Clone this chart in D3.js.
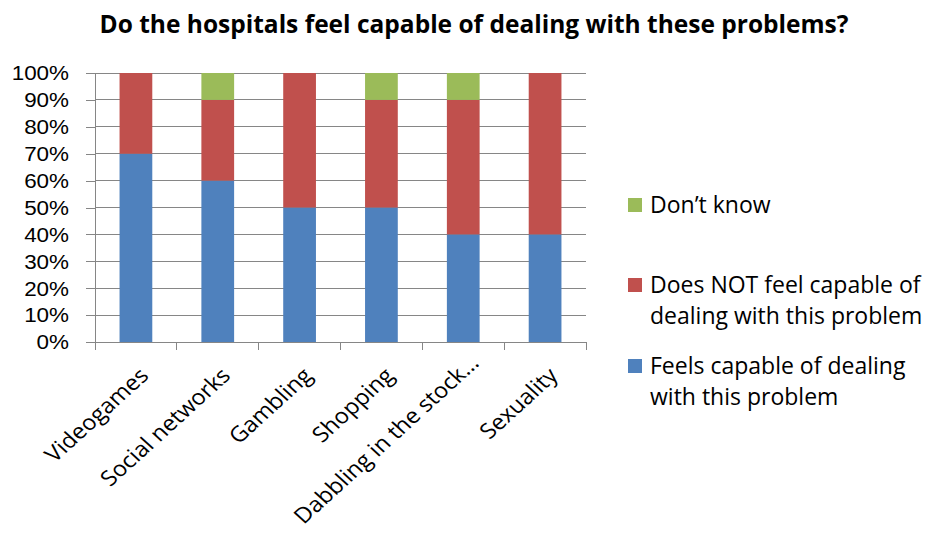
<!DOCTYPE html>
<html>
<head>
<meta charset="utf-8">
<script src="https://cdn.jsdelivr.net/npm/d3@7"></script>
<style>
  html, body { margin: 0; padding: 0; background: #fff; }
  svg { display: block; font-family: "Open Sans", "Noto Sans", sans-serif; }
</style>
</head>
<body>
<svg id="chart" width="927" height="535"></svg>
<script>
// Survey answers per problem area, in percent of hospitals
const categories = ["Videogames", "Social networks", "Gambling", "Shopping", "Dabbling in the stock\u2026", "Sexuality"];
const feelsCapable = [70, 60, 50, 50, 40, 40];
const notCapable = [30, 30, 50, 40, 50, 60];
const dontKnow = [0, 10, 0, 10, 10, 0];
const seriesNames = ["Feels capable of dealing with this problem", "Does NOT feel capable of dealing with this problem", "Don\u2019t know"];
const seriesColors = ["#4F81BD", "#C0504D", "#9BBB59"];
const yTicks = [0, 10, 20, 30, 40, 50, 60, 70, 80, 90, 100];
const titleText = "Do the hospitals feel capable of dealing with these problems?";

const W = 927, H = 535;
const svg = d3.select("#chart");
const plot = { left: 95, right: 586, top: 73, bottom: 342 };
const gridColor = "#868686";
const stretch = 1.1; // labels are set slightly wide

const x = d3.scaleBand().domain(categories).range([plot.left, plot.right]).paddingInner(0.6).paddingOuter(0.3);
const xEdges = d3.scaleBand().domain(categories).range([plot.left, plot.right]).padding(0);
const y = d3.scaleLinear().domain([0, 100]).range([plot.bottom, plot.top]);

// title
svg.append("text")
  .attr("x", 474).attr("y", 33)
  .attr("text-anchor", "middle")
  .attr("font-weight", "bold")
  .attr("font-size", 24.5)
  .text(titleText);

// horizontal gridlines
svg.append("g").selectAll("line").data(yTicks.filter(d => d > 0)).join("line")
  .attr("x1", plot.left).attr("x2", plot.right)
  .attr("y1", d => y(d)).attr("y2", d => y(d))
  .attr("stroke", gridColor).attr("stroke-width", 1).attr("shape-rendering", "crispEdges");

// y axis: line and ticks from d3, labels set wide next to each tick
const yAxis = d3.axisLeft(y).tickValues(yTicks).tickFormat("").tickSize(9);
const gy = svg.append("g").attr("transform", `translate(${plot.left},0)`).call(yAxis);
gy.select(".domain").attr("stroke", gridColor).attr("shape-rendering", "crispEdges");
gy.selectAll(".tick line").attr("stroke", gridColor).attr("shape-rendering", "crispEdges");
gy.selectAll(".tick").append("text")
  .attr("transform", `translate(-26,0) scale(1.15,1)`)
  .attr("text-anchor", "end")
  .attr("dy", "0.35em")
  .attr("font-size", 19.5)
  .attr("fill", "#000")
  .text(d => d + "%");

// stacked bars
const rows = categories.map((c, i) => ({ cat: c, s0: feelsCapable[i], s1: notCapable[i], s2: dontKnow[i] }));
const stacked = d3.stack().keys(["s0", "s1", "s2"])(rows);
svg.append("g").selectAll("g").data(stacked).join("g")
  .attr("fill", (d, i) => seriesColors[i])
  .selectAll("rect").data(d => d).join("rect")
  .attr("x", d => x(d.data.cat))
  .attr("width", x.bandwidth())
  .attr("y", d => y(d[1]))
  .attr("height", d => y(d[0]) - y(d[1]));

// x axis with ticks at category boundaries
const gx = svg.append("g").attr("transform", `translate(0,${plot.bottom})`);
gx.append("line").attr("x1", plot.left).attr("x2", plot.right).attr("stroke", gridColor).attr("shape-rendering", "crispEdges");
const edges = categories.map(c => xEdges(c)).concat([plot.right]);
gx.selectAll("line.edge").data(edges).join("line").attr("class", "edge")
  .attr("x1", d => d).attr("x2", d => d).attr("y1", 0).attr("y2", 8)
  .attr("stroke", gridColor).attr("shape-rendering", "crispEdges");

// rotated category labels; long ones are lifted so they stay inside the chart area
const labels = gx.selectAll("text").data(categories).join("text")
  .attr("text-anchor", "end")
  .attr("font-size", 21.5)
  .text(d => d);
labels.each(function (d) {
  const len = this.getComputedTextLength();
  let ax = x(d) + x.bandwidth() / 2 + 14;
  let ay = 35;
  const startY = plot.bottom + ay + len * Math.SQRT1_2 + 6;
  const over = startY - (H - 4);
  if (over > 0) { ay -= over; ax += over / 4; }
  d3.select(this).attr("transform", `translate(${ax},${ay}) scale(${stretch},1) rotate(-45)`);
});

// legend
const legendItems = [
  { name: ["Don\u2019t know"], color: seriesColors[2], y: 205 },
  { name: ["Does NOT feel capable of", "dealing with this problem"], color: seriesColors[1], y: 285 },
  { name: ["Feels capable of dealing", "with this problem"], color: seriesColors[0], y: 366 }
];
const lg = svg.append("g");
legendItems.forEach(item => {
  lg.append("rect").attr("x", 628).attr("y", item.y - 7).attr("width", 14).attr("height", 14).attr("fill", item.color);
  const t = lg.append("text").attr("x", 650).attr("y", item.y).attr("font-size", 23);
  item.name.forEach((line, k) => {
    t.append("tspan").attr("x", 650).attr("dy", k === 0 ? "0.35em" : 31).text(line);
  });
});
</script>
</body>
</html>
